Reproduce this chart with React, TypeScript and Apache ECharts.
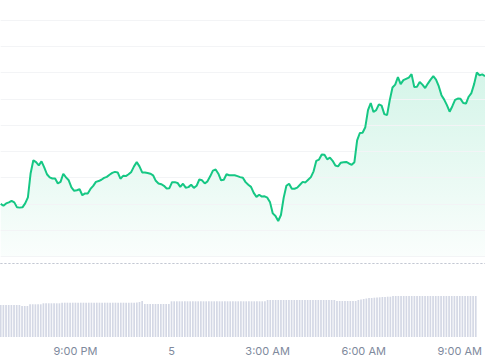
import React, { useEffect, useRef } from "react";
import * as echarts from "echarts";

// 5-minute samples from 6:40 PM to 9:30 AM
const startMinutes = 18 * 60 + 40;
const pointCount = 179;
const categories: string[] = Array.from({ length: pointCount }, (_, i) => {
  const m = (startMinutes + i * 5) % (24 * 60);
  const h = Math.floor(m / 60);
  const mm = m % 60;
  const h12 = h % 12 === 0 ? 12 : h % 12;
  return `${h12}:${mm.toString().padStart(2, "0")} ${h < 12 ? "AM" : "PM"}`;
});

const tickIndices = [28, 64, 100, 136, 172];
const tickLabels = ["9:00 PM", "5", "3:00 AM", "6:00 AM", "9:00 AM"];

const price: number[] = [
  20.0, 19.3, 20.2, 20.6, 21.2, 20.6, 18.7, 18.6, 18.7, 20.2,
  22.5, 31.7, 36.6, 35.9, 34.7, 36.2, 33.9, 31.3, 30.1, 29.7,
  29.7, 27.8, 28.4, 31.5, 30.1, 29.0, 26.3, 25.0, 25.2, 25.6,
  23.3, 24.0, 24.0, 25.7, 26.9, 28.4, 28.7, 29.2, 29.9, 30.3,
  31.1, 31.8, 32.2, 32.0, 29.6, 30.7, 30.6, 31.3, 32.2, 34.3,
  35.9, 34.3, 32.0, 32.0, 31.8, 31.5, 30.9, 28.8, 27.8, 27.5,
  26.9, 25.9, 26.0, 28.3, 28.3, 28.0, 26.5, 27.7, 26.2, 26.4,
  27.3, 26.1, 26.9, 29.3, 29.0, 27.8, 28.6, 30.5, 32.7, 33.1,
  31.5, 29.0, 29.2, 31.3, 30.9, 30.9, 30.9, 30.6, 30.2, 30.0,
  28.3, 27.3, 26.5, 24.2, 22.7, 23.5, 22.8, 22.9, 22.4, 20.6,
  16.4, 15.4, 13.5, 15.8, 22.3, 26.9, 27.7, 25.8, 25.8, 26.2,
  27.3, 28.4, 28.2, 29.2, 30.2, 32.4, 36.4, 36.9, 38.8, 38.7,
  37.0, 37.6, 36.4, 34.6, 34.3, 35.7, 35.9, 36.0, 35.4, 34.9,
  35.9, 44.2, 47.0, 47.1, 49.2, 55.7, 58.4, 55.0, 55.7, 57.9,
  57.4, 54.2, 53.8, 59.5, 64.3, 65.4, 68.3, 65.6, 67.1, 67.6,
  68.1, 69.4, 64.5, 64.6, 66.4, 65.4, 64.1, 65.8, 67.3, 68.6,
  67.3, 64.8, 61.4, 59.7, 57.6, 55.1, 57.2, 59.6, 60.1, 60.0,
  58.4, 58.2, 60.8, 62.2, 65.6, 70.0, 69.0, 69.3, 68.6,
];

const volume: number[] = [
  32, 32, 32, 32, 32, 32, 32, 32, 31, 31,
  31, 32.7, 32.7, 32.7, 32.7, 32.7, 33.7, 33.7, 33.7, 33.7,
  33.7, 33.7, 33.7, 34.3, 34.3, 34.3, 34.3, 34.3, 34.3, 34.3,
  34.3, 34.3, 34.3, 34.3, 34.3, 34.3, 34.3, 34.3, 34.3, 34.3,
  34.3, 34.3, 34.3, 34.3, 34.3, 34.3, 34.3, 34.3, 34.3, 34.3,
  34.3, 34.5, 35, 36, 33, 33, 33, 33, 33, 33,
  33, 33, 33, 33, 35.7, 35.7, 35.7, 35.7, 35.7, 35.7,
  35.7, 35.7, 35.7, 35.7, 35.7, 35.7, 35.7, 35.7, 35.7, 35.7,
  35.7, 35.7, 35.7, 35.7, 35.7, 35.7, 35.7, 35.7, 35.7, 35.7,
  35.7, 35.7, 35.7, 35.7, 35.7, 35.7, 35.7, 35.7, 35.7, 35.7,
  37, 37, 37, 37, 37, 37, 37, 37, 37, 37,
  37, 37, 37, 37, 37, 37, 37, 37, 37, 37,
  37, 37, 37, 37, 37, 37, 36, 36, 36, 36,
  36, 36, 36, 36, 37, 37.5, 38, 38.5, 39, 39,
  39.3, 39.5, 39.7, 40, 40, 40.3, 40.3, 41, 41, 41,
  41, 41, 41, 41, 41, 41, 41, 41, 41, 41,
  41, 41, 41, 41, 41, 41, 41, 41, 41, 41,
  41, 41, 41, 41, 41, 41, 41, 41, 41,
];

const GREEN = "#16c784";

export default function App() {
  const ref = useRef<HTMLDivElement>(null);
  useEffect(() => {
    if (!ref.current) return;
    const chart = echarts.init(ref.current, undefined, { renderer: "svg" });
    const gridLeft = 0.7;
    const gridRight = -2.2;
    chart.setOption({
      animation: false,
      backgroundColor: "#ffffff",
      grid: [
        { left: gridLeft, right: gridRight, top: 20, bottom: 103.5 },
        { left: gridLeft, right: gridRight, top: 290, bottom: 23 },
      ],
      xAxis: [
        {
          type: "category",
          gridIndex: 0,
          data: categories,
          boundaryGap: false,
          offset: 7,
          axisLine: {
            show: true,
            onZero: false,
            lineStyle: { color: "#c3c8d3", type: [1.5, 2.5], width: 1 },
          },
          axisTick: { show: false },
          axisLabel: { show: false },
          splitLine: { show: false },
        },
        {
          type: "category",
          gridIndex: 1,
          data: categories,
          boundaryGap: false,
          axisLine: { show: false },
          axisTick: { show: false },
          splitLine: { show: false },
          axisLabel: {
            interval: (idx: number) => tickIndices.includes(idx),
            formatter: (_v: string, idx: number) => {
              const k = tickIndices.indexOf(idx);
              return k >= 0 ? tickLabels[k] : "";
            },
            color: "#808a9d",
            fontSize: 11,
            fontFamily: "Inter, 'Noto Sans', sans-serif",
            margin: 8,
          },
        },
      ],
      yAxis: [
        {
          type: "value",
          gridIndex: 0,
          min: 0,
          max: 90,
          interval: 10,
          z: 3,
          axisLine: { show: false },
          axisTick: { show: false },
          axisLabel: { show: false },
          splitLine: { show: true, lineStyle: { color: "#f3f4f6", width: 1 } },
        },
        {
          type: "value",
          gridIndex: 1,
          min: 0,
          max: 47,
          axisLine: { show: false },
          axisTick: { show: false },
          axisLabel: { show: false },
          splitLine: { show: false },
        },
      ],
      series: [
        {
          type: "line",
          xAxisIndex: 0,
          yAxisIndex: 0,
          data: price,
          symbol: "none",
          z: 1,
          lineStyle: { width: 0, opacity: 0 },
          areaStyle: {
            color: new echarts.graphic.LinearGradient(0, 0, 0, 1, [
              { offset: 0, color: "rgba(22,199,132,0.26)" },
              { offset: 1, color: "rgba(22,199,132,0.03)" },
            ]),
          },
        },
        {
          type: "line",
          xAxisIndex: 0,
          yAxisIndex: 0,
          data: price,
          symbol: "none",
          z: 5,
          lineStyle: { color: GREEN, width: 2 },
        },
        {
          type: "bar",
          xAxisIndex: 1,
          yAxisIndex: 1,
          data: volume,
          barWidth: 1.7,
          itemStyle: { color: "#d4d8e5" },
        },
      ],
    });
    return () => chart.dispose();
  }, []);
  return (
    <div
      ref={ref}
      style={{ position: "fixed", left: 0, top: 0, width: 485, height: 360 }}
    />
  );
}
